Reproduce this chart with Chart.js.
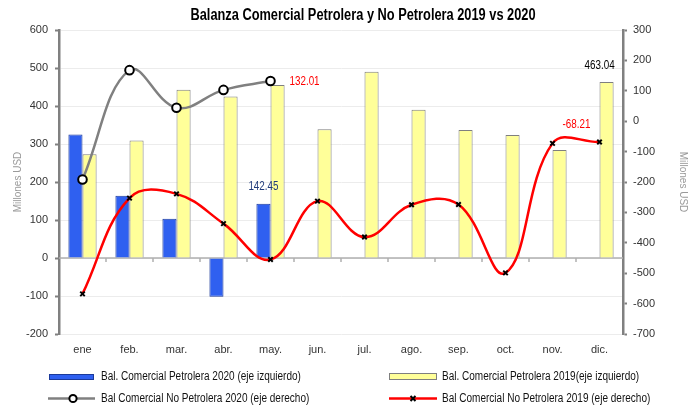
<!DOCTYPE html>
<html><head><meta charset="utf-8">
<script src="https://cdn.jsdelivr.net/npm/chart.js@4.4.1/dist/chart.umd.min.js"></script>
<style>
html,body{margin:0;padding:0;background:#fff;}
#wrap{position:relative;width:700px;height:410px;overflow:hidden;}
#c{position:absolute;left:0;top:0;}
.lt{position:absolute;font-family:'Liberation Sans',Arial,sans-serif;font-size:12px;color:#111;white-space:nowrap;line-height:14px;transform:scaleX(0.835);transform-origin:0 50%;}
#sw{position:absolute;left:0;top:360px;}
</style></head>
<body>
<div id="wrap">
<canvas id="c" width="700" height="410"></canvas>
<svg id="sw" width="700" height="50">
  <rect x="49.5" y="14.5" width="44" height="5" fill="#2f60f0" stroke="#1c3a9a" stroke-width="1"/>
  <rect x="389.5" y="13.5" width="47" height="6" fill="#ffff99" stroke="#7f7f7f" stroke-width="1"/>
  <line x1="48" y1="38.5" x2="95" y2="38.5" stroke="#808080" stroke-width="2.5"/>
  <circle cx="73" cy="38.5" r="3.6" fill="#fff" stroke="#000" stroke-width="2"/>
  <line x1="389" y1="38.5" x2="437" y2="38.5" stroke="#ff0000" stroke-width="2.5"/>
  <path d="M410.5 36 L415.5 41 M415.5 36 L410.5 41" stroke="#000" stroke-width="2"/>
</svg>
<div class="lt" style="left:101px;top:369px;">Bal. Comercial Petrolera 2020 (eje izquierdo)</div>
<div class="lt" style="left:442px;top:369px;">Bal. Comercial Petrolera 2019(eje izquierdo)</div>
<div class="lt" style="left:101px;top:391px;">Bal Comercial No Petrolera 2020 (eje derecho)</div>
<div class="lt" style="left:442px;top:391px;">Bal Comercial No Petrolera 2019 (eje derecho)</div>
</div>
<script>
const months = ['ene','feb.','mar.','abr.','may.','jun.','jul.','ago.','sep.','oct.','nov.','dic.'];
const petrolera2020 = [325, 164, 103, -102, 142.45, null, null, null, null, null, null, null];
const petrolera2019 = [273, 309, 443, 425, 455, 339, 490, 390, 337, 324, 284, 463.04];
const noPetrolera2020 = [-192, 168, 44, 103, 132.01, null, null, null, null, null, null, null];
const noPetrolera2019 = [-568, -253, -239, -337, -455, -263, -381, -275, -274, -499, -73, -68.21];
const leftTicks = {min: -200, max: 600, step: 100};
const rightTicks = {min: -700, max: 300, step: 100};
const seriesNames = ['Bal. Comercial Petrolera 2020 (eje izquierdo)','Bal. Comercial Petrolera 2019(eje izquierdo)','Bal Comercial No Petrolera 2020 (eje derecho)','Bal Comercial No Petrolera 2019 (eje derecho)'];
const titleText = 'Balanza Comercial Petrolera y No Petrolera 2019 vs 2020';
const axisTitle = 'Millones USD';

const FONT = "'Liberation Sans',Arial,sans-serif";
const NARROW = 0.82;

const titlePlugin = {
  id: 'ttl',
  afterDraw(chart) {
    const ctx = chart.ctx;
    ctx.save();
    ctx.font = 'bold 16px ' + FONT;
    ctx.fillStyle = '#000';
    ctx.textAlign = 'center';
    ctx.textBaseline = 'middle';
    ctx.translate(363, 16);
    ctx.scale(0.8, 1);
    ctx.fillText(titleText, 0, 0);
    ctx.restore();
  }
};

const zeroLine = {
  id: 'zero',
  beforeDatasetsDraw(chart) {
    const {ctx, chartArea, scales} = chart;
    const y0 = scales.y.getPixelForValue(0);
    ctx.save();
    ctx.strokeStyle = '#b0b0b0';
    ctx.lineWidth = 1.5;
    ctx.beginPath();
    ctx.moveTo(chartArea.left, y0);
    ctx.lineTo(chartArea.right, y0);
    const n = months.length;
    const w = (chartArea.right - chartArea.left) / n;
    for (let i = 1; i < n; i++) {
      const x = chartArea.left + i * w;
      ctx.moveTo(x, y0);
      ctx.lineTo(x, y0 + 4);
    }
    ctx.stroke();
    ctx.restore();
  }
};

// label specs: dataset index, point index, colour, offset
const labelSpecs = [
  {ds: 2, i: 4, color: '#1f3a7a', dx: 0, dy: -17, align: 'center'},
  {ds: 0, i: 4, color: '#ff0000', dx: 19, dy: 1, align: 'left'},
  {ds: 3, i: 11, color: '#000000', dx: -7, dy: -16, align: 'center'},
  {ds: 1, i: 11, color: '#ff0000', dx: -23, dy: -17, align: 'center'}
];
const labelsPlugin = {
  id: 'lbls',
  afterDatasetsDraw(chart) {
    const ctx = chart.ctx;
    labelSpecs.forEach(s => {
      const el = chart.getDatasetMeta(s.ds).data[s.i];
      const v = chart.data.datasets[s.ds].data[s.i];
      ctx.save();
      ctx.font = '12px ' + FONT;
      ctx.textBaseline = 'middle';
      ctx.fillStyle = s.color;
      ctx.textAlign = s.align;
      ctx.translate(el.x + s.dx, el.y + s.dy);
      ctx.scale(NARROW, 1);
      ctx.fillText(v.toFixed(2), 0, 0);
      ctx.restore();
    });
  }
};

const tickFont = {size: 11, family: FONT};

new Chart(document.getElementById('c'), {
  data: {
    labels: months,
    datasets: [
      {type: 'line', label: seriesNames[2], data: noPetrolera2020, yAxisID: 'y1', order: 1,
       borderColor: '#808080', borderWidth: 2.5, tension: 0.4,
       pointStyle: 'circle', pointRadius: 4.3, pointBackgroundColor: '#fff', pointBorderColor: '#000', pointBorderWidth: 2},
      {type: 'line', label: seriesNames[3], data: noPetrolera2019, yAxisID: 'y1', order: 1,
       borderColor: '#ff0000', borderWidth: 2.5, tension: 0.4,
       pointStyle: 'crossRot', pointRadius: 3.2, pointBackgroundColor: '#fff', pointBorderColor: '#000', pointBorderWidth: 2},
      {type: 'bar', label: seriesNames[0], data: petrolera2020, yAxisID: 'y', order: 2,
       backgroundColor: '#2f60f0', borderColor: '#1c3a9a', borderWidth: 1,
       categoryPercentage: 0.6, barPercentage: 1.0},
      {type: 'bar', label: seriesNames[1], data: petrolera2019, yAxisID: 'y', order: 3,
       backgroundColor: '#ffff99', borderColor: '#7f7f7f', borderWidth: 1,
       categoryPercentage: 0.6, barPercentage: 1.0}
    ]
  },
  options: {
    responsive: false,
    animation: false,
    layout: {padding: {top: 30, bottom: 50, left: 0, right: 0}},
    plugins: {legend: {display: false}, tooltip: {enabled: false}, title: {display: false}},
    scales: {
      x: {
        offset: true,
        grid: {display: false, drawTicks: false},
        border: {display: false},
        ticks: {color: '#333', font: tickFont, padding: 9},
        afterFit(s) { s.height = 26; }
      },
      y: {
        position: 'left', min: leftTicks.min, max: leftTicks.max,
        ticks: {stepSize: leftTicks.step, color: '#333', font: tickFont, padding: 7},
        grid: {color: '#ececec', lineWidth: 1, tickColor: '#808080', tickLength: 4, tickWidth: 2},
        border: {color: '#808080', width: 2.5},
        title: {display: true, text: axisTitle, color: '#9a9a9a', font: {size: 10, family: FONT}, padding: {top: 12, bottom: 0}},
        afterFit(s) { s.width = 59; }
      },
      y1: {
        position: 'right', min: rightTicks.min, max: rightTicks.max,
        ticks: {stepSize: rightTicks.step, color: '#333', font: tickFont, padding: 6},
        grid: {drawOnChartArea: false, tickColor: '#808080', tickLength: 4, tickWidth: 2},
        border: {color: '#808080', width: 2.5},
        title: {display: true, text: axisTitle, color: '#9a9a9a', font: {size: 10, family: FONT}, padding: {top: 11, bottom: 0}},
        afterFit(s) { s.width = 77; }
      }
    }
  },
  plugins: [zeroLine, labelsPlugin, titlePlugin]
});
</script>
</body></html>
